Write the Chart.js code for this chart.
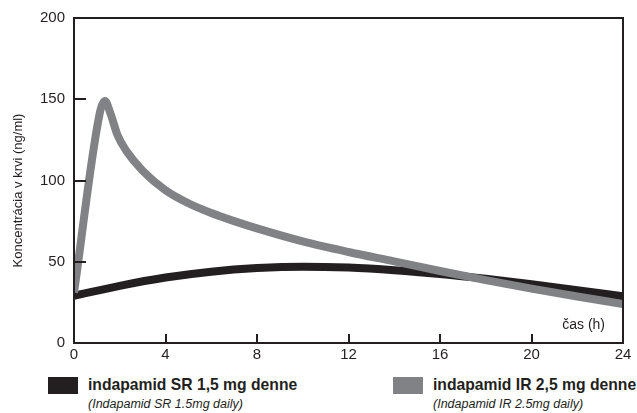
<!DOCTYPE html>
<html>
<head>
<meta charset="utf-8">
<script src="https://cdn.jsdelivr.net/npm/chart.js@4.4.1/dist/chart.umd.min.js"></script>
<style>
  html, body { margin: 0; padding: 0; background: #fff; }
  body { width: 637px; height: 413px; position: relative; overflow: hidden; font-family: 'Liberation Sans', Arial, sans-serif; color: #231f20; }
  #wrap { position: absolute; left: 0; top: 0; width: 637px; height: 368px; }
  .leg { position: absolute; top: 376px; }
  .leg .box { position: absolute; left: 0; top: 1px; width: 30px; height: 17px; }
  .leg .main { position: absolute; left: 40px; top: 0; font-weight: bold; font-size: 15.7px; white-space: nowrap; line-height: 18px; }
  .leg .sub { position: absolute; left: 40px; top: 21px; font-style: italic; font-size: 12.5px; white-space: nowrap; line-height: 14px; }
</style>
</head>
<body>
<div id="wrap"><canvas id="chart"></canvas></div>
<div class="leg" style="left:48px">
  <div class="box" style="background:#231f20"></div>
  <div class="main">indapamid SR 1,5 mg denne</div>
  <div class="sub">(Indapamid SR 1.5mg daily)</div>
</div>
<div class="leg" style="left:393px">
  <div class="box" style="background:#808285"></div>
  <div class="main">indapamid IR 2,5 mg denne</div>
  <div class="sub">(Indapamid IR 2.5mg daily)</div>
</div>
<script>
// ---- DATA ----
const srHours = [0, 2, 4, 6, 8, 10, 12, 14, 16, 18, 20, 22, 24];
const srConc  = [29, 35.2, 40.3, 43.9, 46.1, 47, 46.4, 44.8, 42.5, 39.6, 36.2, 32.5, 28.7];

const irHours = [0, 1.15, 1.35, 1.6, 1.9, 2.3, 3, 4, 5, 6, 7, 8, 10, 12, 14, 16, 18, 20, 22, 24];
const irConc  = [31, 143, 149, 141, 128, 118, 106, 94, 86, 80, 75, 70.5, 62.5, 56, 50.2, 44.3, 38.7, 33.5, 28.6, 24];

const xTicks = [0, 4, 8, 12, 16, 20, 24];
const yTicks = [0, 50, 100, 150, 200];
const yTitle = 'Koncentrácia v krvi (ng/ml)';
const xNote = 'čas (h)';

const ink = '#231f20';
const grey = '#808285';
const font = "'Liberation Sans', Arial, sans-serif";

const pts = (xs, ys) => xs.map((x, i) => ({ x, y: ys[i] }));

// frame, inward tick marks, axis title and "čas (h)" note
const framePlugin = {
  id: 'frame',
  afterDraw(chart) {
    const { ctx, chartArea: a, scales } = chart;
    ctx.save();
    ctx.strokeStyle = ink;
    ctx.lineWidth = 2;
    ctx.strokeRect(a.left, a.top, a.right - a.left, a.bottom - a.top);
    ctx.beginPath();
    yTicks.forEach(v => {
      if (v === 0 || v === 200) return;
      const y = Math.round(scales.y.getPixelForValue(v));
      ctx.moveTo(a.left, y);
      ctx.lineTo(a.left + 12, y);
    });
    xTicks.forEach(v => {
      if (v === 0 || v === 24) return;
      const x = Math.round(scales.x.getPixelForValue(v));
      ctx.moveTo(x, a.bottom);
      ctx.lineTo(x, a.bottom - 9);
    });
    ctx.stroke();
    ctx.fillStyle = ink;
    ctx.font = '14px ' + font;
    ctx.textAlign = 'right';
    ctx.textBaseline = 'alphabetic';
    ctx.fillText(xNote, a.right - 18, a.bottom - 14);

    ctx.translate(18, (a.top + a.bottom) / 2 + 10);
    ctx.rotate(-Math.PI / 2);
    ctx.textAlign = 'center';
    ctx.textBaseline = 'middle';
    ctx.font = '13px ' + font;
    ctx.fillText(yTitle, 0, 0);
    ctx.restore();
  }
};

new Chart(document.getElementById('chart'), {
  type: 'line',
  data: {
    datasets: [
      {
        label: 'indapamid IR 2,5 mg denne',
        data: pts(irHours, irConc),
        borderColor: grey,
        borderWidth: 8,
        pointRadius: 0,
        cubicInterpolationMode: 'monotone',
        fill: false,
        order: 0,
      },
      {
        label: 'indapamid SR 1,5 mg denne',
        data: pts(srHours, srConc),
        borderColor: ink,
        borderWidth: 8,
        pointRadius: 0,
        cubicInterpolationMode: 'monotone',
        fill: false,
        order: 1,
      }
    ]
  },
  options: {
    responsive: true,
    maintainAspectRatio: false,
    animation: false,
    layout: { padding: { left: 0, right: 14, top: 15, bottom: 0 } },
    plugins: {
      legend: { display: false },
      tooltip: { enabled: false },
    },
    scales: {
      x: {
        type: 'linear',
        min: 0,
        max: 24,
        afterFit: s => { s.height = 25; },
        afterBuildTicks: s => { s.ticks = xTicks.map(v => ({ value: v })); },
        grid: { display: false, drawTicks: false },
        border: { display: false },
        ticks: {
          color: ink,
          padding: 3,
          maxRotation: 0,
          font: { family: font, size: 15 },
        },
      },
      y: {
        min: 0,
        max: 200,
        afterFit: s => { s.width = 74; },
        afterBuildTicks: s => { s.ticks = yTicks.map(v => ({ value: v })); },
        grid: { display: false, drawTicks: false },
        border: { display: false },
        ticks: {
          color: ink,
          padding: 9,
          font: { family: font, size: 15 },
        },
      }
    }
  },
  plugins: [framePlugin]
});
</script>
</body>
</html>
